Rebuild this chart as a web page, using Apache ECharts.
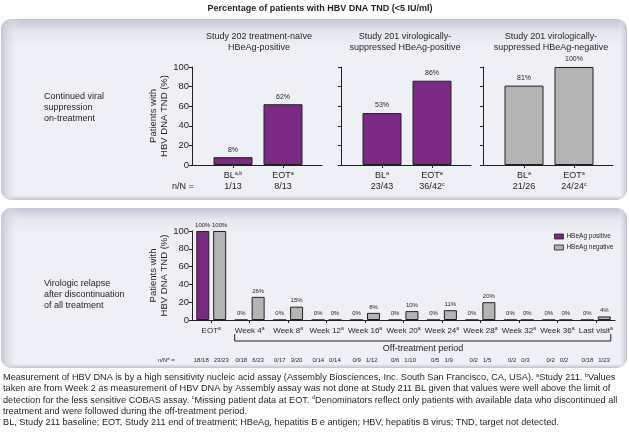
<!DOCTYPE html>
<html><head><meta charset="utf-8">
<script src="https://cdn.jsdelivr.net/npm/echarts/dist/echarts.min.js"></script>
<style>html,body{margin:0;padding:0;background:#fff}#c{width:629px;height:443px}</style>
</head><body><div id="c"></div>
<script>
// ---------- data ----------
const topTitles = ['Study 202 treatment-naïve\nHBeAg-positive', 'Study 201 virologically-\nsuppressed HBeAg-positive', 'Study 201 virologically-\nsuppressed HBeAg-negative'];
const topCats1 = ['BL{s|a,b}', 'EOT{s|a}'];
const topCats2 = ['BL{s|a}', 'EOT{s|a}'];
const topCats3 = ['BL{s|a}', 'EOT{s|a}'];
const topN1 = ['1/13', '8/13'];
const topN2 = ['23/43', '36/42{s|c}'];
const topN3 = ['21/26', '24/24{s|c}'];
const topValues1 = [8, 62];
const topValues2 = [53, 86];
const topValues3 = [81, 100];

const relapseCats = ['EOT', 'Week 4', 'Week 8', 'Week 12', 'Week 16', 'Week 20', 'Week 24', 'Week 28', 'Week 32', 'Week 36', 'Last visit'];
const positiveValues = [100, 0, 0, 0, 0, 0, 0, 0, 0, 0, 0];
const negativeValues = [100, 26, 15, 0, 8, 10, 11, 20, 0, 0, 4];
const positiveN = ['18/18', '0/18', '0/17', '0/14', '0/9', '0/6', '0/5', '0/2', '0/2', '0/2', '0/18'];
const negativeN = ['23/23', '6/23', '3/20', '0/14', '1/12', '1/10', '1/9', '1/5', '0/3', '0/2', '1/23'];
const yTickMax = 100, yTickStep = 20;

// ---------- style ----------
const F = '"Liberation Sans", Arial, Helvetica, sans-serif';
const INK = '#231f20';
const PURPLE = '#7b2a84';
const GREY = '#b4b4b4';
const SUP = { fontSize: 5.5, fontFamily: F, color: INK, verticalAlign: 'top', lineHeight: 11 };

const chart = echarts.init(document.getElementById('c'));
const grids = [], xAxes = [], yAxes = [], series = [];

const topSets = [
  { cats: topCats1, n: topN1, vals: topValues1, color: PURPLE, x0: 192, labels: true, name: 'Study 202 HBeAg+' },
  { cats: topCats2, n: topN2, vals: topValues2, color: PURPLE, x0: 341, labels: false, name: 'Study 201 HBeAg+' },
  { cats: topCats3, n: topN3, vals: topValues3, color: GREY, x0: 483, labels: false, name: 'Study 201 HBeAg-' }
];
const TOP_T = 67, TOP_H = 98;
const axisLineStyle = { color: INK, width: 1 };
const yName = 'Patients with\nHBV DNA TND (%)';

topSets.forEach((s) => {
  grids.push({ left: s.x0 + 16, width: 100, top: TOP_T, height: TOP_H, outerBoundsMode: 'none' });
  const gA = grids.length - 1;
  grids.push({ left: s.x0, width: 130, top: TOP_T, height: TOP_H, outerBoundsMode: 'none' });
  const gB = grids.length - 1;
  xAxes.push({
    gridIndex: gA, type: 'category', data: s.cats.map((c, j) => c + '\n' + s.n[j]),
    axisLine: { show: false },
    axisTick: { show: true, alignWithLabel: true, length: 3, lineStyle: axisLineStyle },
    axisLabel: { interval: 0, hideOverlap: false, margin: 5, fontSize: 9, fontFamily: F, color: INK, lineHeight: 11, rich: { s: SUP } }
  });
  const xa = xAxes.length - 1;
  yAxes.push({
    gridIndex: gA, type: 'value', min: 0, max: yTickMax, interval: yTickStep, offset: 16,
    axisLine: { show: true, lineStyle: axisLineStyle },
    axisTick: { show: true, length: 3, lineStyle: axisLineStyle },
    axisLabel: { show: s.labels, margin: 3, fontSize: 9.5, fontFamily: F, color: INK },
    splitLine: { show: false },
    name: s.labels ? yName : '', nameLocation: 'middle', nameRotate: 90, nameGap: 22, nameMoveOverlap: false,
    nameTextStyle: { fontSize: 9.5, fontFamily: F, color: INK, lineHeight: 11 }
  });
  const ya = yAxes.length - 1;
  xAxes.push({
    gridIndex: gB, type: 'value', min: 0, max: 1,
    axisLine: { show: true, lineStyle: axisLineStyle }, axisTick: { show: false },
    axisLabel: { show: false }, splitLine: { show: false }
  });
  yAxes.push({ gridIndex: gB, type: 'value', min: 0, max: yTickMax, show: false });
  series.push({
    type: 'bar', name: s.name, xAxisIndex: xa, yAxisIndex: ya, data: s.vals, barWidth: 39,
    itemStyle: { color: s.color, borderColor: INK, borderWidth: 1 },
    label: { show: true, position: 'top', distance: 4, formatter: '{c}%', fontSize: 7, fontFamily: F, color: INK },
    emphasis: { disabled: true }, animation: false
  });
});

// bottom chart
grids.push({ left: 192, width: 423, top: 231, height: 89, outerBoundsMode: 'none' });
const gBot = grids.length - 1;
xAxes.push({
  gridIndex: gBot, type: 'category', data: relapseCats,
  axisLine: { show: true, lineStyle: axisLineStyle },
  axisTick: { show: true, alignWithLabel: true, length: 3, lineStyle: axisLineStyle },
  axisLabel: { margin: 6, fontSize: 8, fontFamily: F, color: INK, interval: 0, hideOverlap: false, formatter: (v) => v + '{s|a}',
    rich: { s: Object.assign({}, SUP, { fontSize: 5, lineHeight: 10 }) } }
});
const xBot = xAxes.length - 1;
xAxes.push({
  gridIndex: gBot, type: 'category', data: relapseCats, position: 'bottom', offset: 37,
  axisLine: { show: false }, axisTick: { show: false },
  axisLabel: { margin: 0, fontSize: 6, fontFamily: F, color: INK, interval: 0, hideOverlap: false,
    formatter: (v, i) => positiveN[i] + '   ' + negativeN[i] }
});
yAxes.push({
  gridIndex: gBot, type: 'value', min: 0, max: yTickMax, interval: yTickStep,
  axisLine: { show: true, lineStyle: axisLineStyle },
  axisTick: { show: true, length: 3, lineStyle: axisLineStyle },
  axisLabel: { margin: 3, fontSize: 9.5, fontFamily: F, color: INK },
  splitLine: { show: false },
  name: yName, nameLocation: 'middle', nameRotate: 90, nameGap: 22, nameMoveOverlap: false,
  nameTextStyle: { fontSize: 9.5, fontFamily: F, color: INK, lineHeight: 11 }
});
const yBot = yAxes.length - 1;
const botLabel = { show: true, position: 'top', distance: 3, formatter: '{c}%', fontSize: 6, fontFamily: F, color: INK };
series.push({
  type: 'bar', name: 'HBeAg positive', xAxisIndex: xBot, yAxisIndex: yBot, data: positiveValues,
  barWidth: 13, barGap: '30%', itemStyle: { color: PURPLE, borderColor: INK, borderWidth: 1 },
  label: botLabel, emphasis: { disabled: true }, animation: false
});
series.push({
  type: 'bar', name: 'HBeAg negative', xAxisIndex: xBot, yAxisIndex: yBot, data: negativeValues,
  barWidth: 13, barGap: '30%', itemStyle: { color: GREY, borderColor: INK, borderWidth: 1 },
  label: botLabel, emphasis: { disabled: true }, animation: false
});

function panel(y, h) {
  return [
    { type: 'rect', z: -20, shape: { x: 1, y: y, width: 626, height: h, r: 10 },
      style: { fill: new echarts.graphic.LinearGradient(0, 0, 0, 1, [
        { offset: 0, color: '#c3c7d5' }, { offset: 0.07, color: '#e4e7ee' }, { offset: 0.16, color: '#eef0f5' },
        { offset: 0.975, color: '#eef0f5' }, { offset: 1, color: '#bfc3d1' }]) } },
    { type: 'rect', z: -19, shape: { x: 1, y: y, width: 626, height: h, r: 10 },
      style: { fill: new echarts.graphic.LinearGradient(0, 0, 1, 0, [
        { offset: 0, color: 'rgba(190,195,210,0.9)' }, { offset: 0.03, color: 'rgba(238,240,245,0)' },
        { offset: 0.985, color: 'rgba(238,240,245,0)' }, { offset: 1, color: 'rgba(185,190,205,0.9)' }]) } }
  ];
}
function txt(x, y, text, o) {
  return Object.assign({ type: 'text', z: 10, x: x, y: y,
    style: Object.assign({ text: text, fontFamily: F, fontSize: 9, fill: INK, lineHeight: 11,
      align: 'left', verticalAlign: 'top', rich: { s: SUP } }, o || {}) });
}

const graphics = [].concat(
  panel(19, 181), panel(208, 160),
  [
    txt(320, 3, 'Percentage of patients with HBV DNA TND (<5 IU/ml)', { fontWeight: 'bold', fontSize: 9, align: 'center' }),
    txt(44, 91, 'Continued viral\nsuppression\non-treatment'),
    txt(44, 278, 'Virologic relapse\nafter discontinuation\nof all treatment'),
    txt(259, 31, topTitles[0], { align: 'center' }),
    txt(405, 31, topTitles[1], { align: 'center' }),
    txt(551, 31, topTitles[2], { align: 'center' }),
    txt(172, 181, 'n/N ='),
    txt(158, 357, 'n/N{s|d} =', { fontSize: 6, rich: { s: Object.assign({}, SUP, { fontSize: 4, lineHeight: 7 }) }, lineHeight: 7 }),
    txt(423, 343, 'Off-treatment period', { align: 'center' }),
    txt(3, 372,
      'Measurement of HBV DNA is by a high sensitivity nucleic acid assay (Assembly Biosciences, Inc. South San Francisco, CA, USA). {s|a}Study 211. {s|b}Values\n' +
      'taken are from Week 2 as measurement of HBV DNA by Assembly assay was not done at Study 211 BL given that values were well above the limit of\n' +
      'detection for the less sensitive COBAS assay. {s|c}Missing patient data at EOT. {s|d}Denominators reflect only patients with available data who discontinued all\n' +
      'treatment and were followed during the off-treatment period.\n' +
      'BL, Study 211 baseline; EOT, Study 211 end of treatment; HBeAg, hepatitis B e antigen; HBV, hepatitis B virus; TND, target not detected.',
      { fontSize: 9.2, lineHeight: 11.3, rich: { s: Object.assign({}, SUP, { fontSize: 5.5, lineHeight: 11.3 }) } })
  ]
);

chart.setOption({
  animation: false,
  backgroundColor: '#ffffff',
  grid: grids, xAxis: xAxes, yAxis: yAxes, series: series,
  legend: {
    data: ['HBeAg positive', 'HBeAg negative'], orient: 'vertical', left: 549, top: 228,
    itemWidth: 9, itemHeight: 5, itemGap: 4, icon: 'rect', selectedMode: false,
    itemStyle: { borderColor: INK, borderWidth: 0.8 },
    textStyle: { fontSize: 6.5, fontFamily: F, color: INK, padding: [0, 0, 0, -2] }
  },
  graphic: graphics
});

// bracket for the off-treatment period, placed from the axis scale
const pL = chart.convertToPixel({ xAxisIndex: xBot }, 'Week 4');
const pR = chart.convertToPixel({ xAxisIndex: xBot }, 'Last visit');
const pY = chart.convertToPixel({ yAxisIndex: yBot }, 0);
const half = 15;
chart.setOption({
  graphic: graphics.concat([{
    type: 'polyline', z: 10,
    shape: { points: [[pL - half, pY + 14], [pL - half, pY + 21], [pR + half, pY + 21], [pR + half, pY + 14]] },
    style: { stroke: INK, lineWidth: 1, fill: null }
  }])
}, { replaceMerge: ['graphic'] });
</script></body></html>
